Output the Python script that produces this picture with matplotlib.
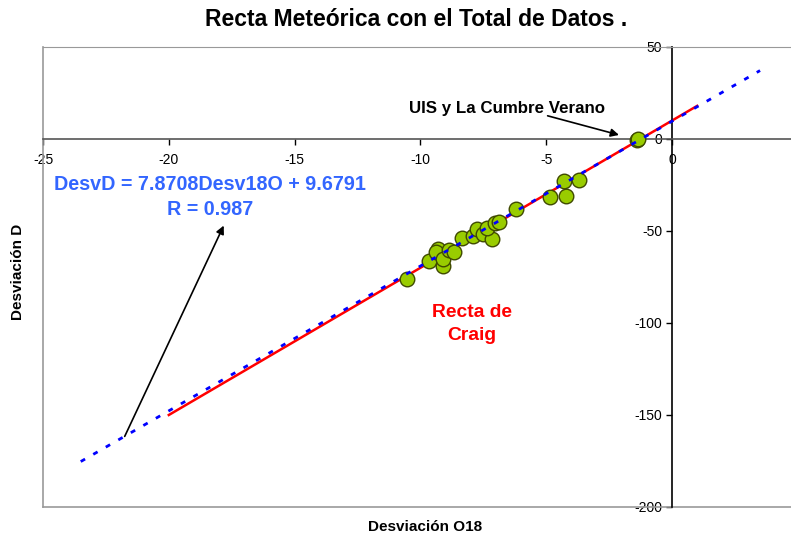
import matplotlib
matplotlib.use("Agg")
import matplotlib.pyplot as plt
import numpy as np

plt.rcParams['font.family'] = ['Liberation Sans', 'DejaVu Sans']
plt.rcParams['axes.unicode_minus'] = False

# Measured isotope data (Desviacion O18, Desviacion D)
desv_o18 = [-10.54, -9.65, -9.29, -9.38, -9.11, -9.09, -8.85, -8.65, -8.36, -7.92,
            -7.76, -7.50, -7.17, -7.34, -7.03, -6.88, -6.20, -4.85, -4.21, -4.29,
            -3.70, -1.40, -1.35]
desv_d = [-76.1, -66.1, -59.9, -61.2, -69.0, -65.4, -60.3, -61.6, -54.0, -52.7,
          -49.1, -51.8, -54.5, -48.5, -45.8, -44.9, -38.2, -31.4, -30.8, -22.7,
          -22.3, -0.5, 0.0]

# Craig line (dD = 8 d18O + 10) end points
craig_x = [-20.0, 1.0]
craig_y = [-150.0, 18.0]

# Trend line (DesvD = 7.8708 Desv18O + 9.6791) end points
trend_x = [-23.5, 3.5]
trend_y = [-175.3, 37.2]

x_ticks = [-25, -20, -15, -10, -5, 0]
y_ticks = [-200, -150, -100, -50, 0, 50]

fig = plt.figure(figsize=(7.91, 5.39), dpi=100)
ax = fig.add_axes([43 / 791, 32 / 539, 748 / 791, 460 / 539])
ax.set_xlim(-25, 4.73)
ax.set_ylim(-200, 50)

# frame of the plot area (gray, no right side)
ax.spines['right'].set_visible(False)
ax.spines['top'].set_color('#999999')
ax.plot([0, 0], [0, 1], transform=ax.transAxes, color='#999999', lw=1.2, clip_on=False)
ax.plot([0, 1], [0, 0], transform=ax.transAxes, color='#999999', lw=1.2, clip_on=False)

# axes crossing at zero
ax.spines['left'].set_position(('data', 0))
ax.spines['bottom'].set_position(('data', 0))
ax.spines['left'].set_color('black')
ax.spines['bottom'].set_color('#555555')
ax.spines['left'].set_linewidth(1.2)
ax.spines['bottom'].set_linewidth(1.2)

ax.set_xticks(x_ticks)
ax.set_yticks(y_ticks)
ax.tick_params(axis='both', direction='out', length=4, width=1, labelsize=10, pad=3)
ax.tick_params(axis='x', pad=6)

ax.plot(craig_x, craig_y, color='red', lw=1.8, zorder=2)
ax.scatter(desv_o18, desv_d, s=110, facecolor='#99CC00', edgecolor='#3F4A00', linewidth=1, zorder=3)
ax.plot(trend_x, trend_y, color='blue', lw=2.0, dashes=(1.8, 3.4), zorder=4)

ax.text(-18.35, -31.5, 'DesvD = 7.8708Desv18O + 9.6791\nR = 0.987', color='#3366FF',
        fontsize=14.2, fontweight='bold', ha='center', va='center', linespacing=1.45)
ax.annotate('', xy=(-17.77, -45.7), xytext=(-21.8, -163),
            arrowprops=dict(arrowstyle='-|>', color='black', lw=1.2, mutation_scale=12))

ax.text(-10.45, 16.5, 'UIS y La Cumbre Verano', color='black', fontsize=12.2,
        fontweight='bold', ha='left', va='center')
ax.annotate('', xy=(-2.0, 1.8), xytext=(-5.05, 13.0),
            arrowprops=dict(arrowstyle='-|>', color='black', lw=1.2, mutation_scale=12))

ax.text(-7.95, -100.5, 'Recta de\nCraig', color='red', fontsize=13.9, fontweight='bold',
        ha='center', va='center', linespacing=1.45)

fig.text(416 / 791, 1 - 20 / 539, 'Recta Meteórica con el Total de Datos .',
         fontsize=16.5, fontweight='bold', ha='center', va='center')
fig.text(425 / 791, 1 - 527 / 539, 'Desviación O18', fontsize=11, fontweight='bold',
         ha='center', va='center')
fig.text(18 / 791, 1 - 272 / 539, 'Desviación D', fontsize=11, fontweight='bold',
         ha='center', va='center', rotation=90)

fig.savefig('out.png', dpi=100)
